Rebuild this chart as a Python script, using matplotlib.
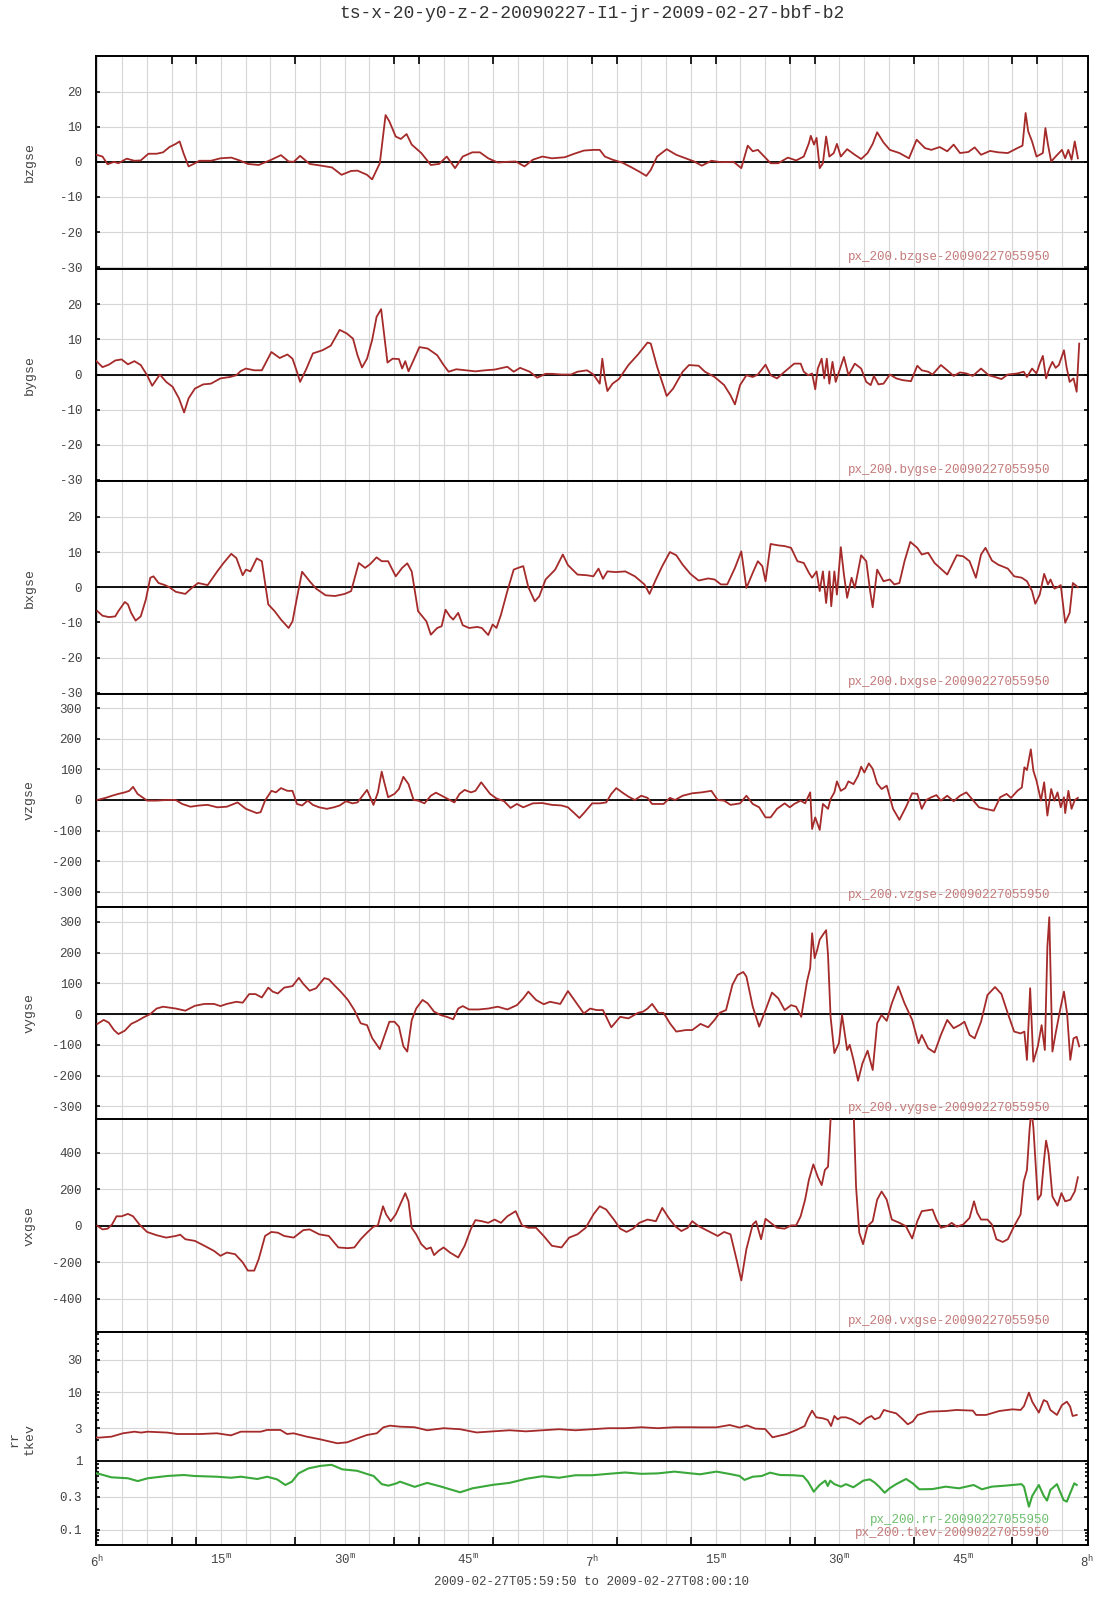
import numpy as np
import matplotlib
matplotlib.use("Agg")
import matplotlib.pyplot as plt
from matplotlib.ticker import FixedLocator, NullFormatter, LogLocator

plt.rcParams['font.family'] = ['Liberation Mono', 'DejaVu Sans Mono']
plt.rcParams['mathtext.fontset'] = 'custom'
plt.rcParams['mathtext.rm'] = 'Liberation Mono'

# time axis: minutes after 2009-02-27 06:00:00
t_start, t_end = -10 / 60.0, 120 + 10 / 60.0

bz_t = [-0.1, 0.62, 1.24, 2.01, 2.55, 3.56, 4.49, 5.26, 6.19, 7.19, 7.97, 8.74, 9.51, 9.98, 10.44,
        11.06, 11.68, 12.37, 13.77, 14.93, 16.24, 17.25, 18.25, 19.57, 21.11, 22.27, 23.20, 23.82,
        24.59, 25.75, 26.91, 28.46, 29.62, 30.78, 31.55, 32.71, 33.33, 34.26, 34.65, 34.96, 35.42,
        36.19, 36.81, 37.51, 38.13, 39.29, 40.45, 41.45, 42.38, 43.39, 44.32, 45.48, 46.40, 47.41,
        48.57, 49.73, 50.74, 51.82, 52.82, 53.98, 55.14, 56.69, 57.85, 59.01, 60.17, 60.94, 61.56,
        62.49, 63.65, 64.81, 65.74, 66.59, 67.13, 67.90, 69.06, 70.22, 71.38, 72.39, 73.32, 74.48,
        75.64, 77.18, 78.11, 78.89, 79.50, 80.12, 80.90, 81.67, 82.60, 83.76, 84.76, 85.69, 86.31,
        86.54, 86.93, 87.24, 87.62, 88.01, 88.40, 88.79, 89.33, 89.71, 90.18, 90.95, 91.88, 92.65,
        93.43, 94.05, 94.59, 95.36, 96.13, 97.29, 98.45, 99.38, 100.39, 101.16, 102.17, 103.09,
        103.87, 104.64, 105.65, 106.42, 107.19, 108.28, 109.28, 110.44, 111.60, 112.22, 112.60,
        112.91, 113.38, 113.92, 114.69, 115.00, 115.31, 115.70, 116.24, 117.01, 117.40, 117.78,
        118.17, 118.56, 118.94]
bz = [2.0, 1.5, -0.7, 0.0, -0.4, 0.9, 0.3, 0.4, 2.3, 2.3, 2.7, 4.2, 5.1, 5.8, 2.5,
      -1.3, -0.6, 0.3, 0.3, 1.0, 1.2, 0.4, -0.6, -0.9, 0.6, 1.9, 0.1, 0.0,
      1.7, -0.6, -1.0, -1.6, -3.7, -2.6, -2.5, -3.7, -5.0, -0.4, 7.2, 13.3, 11.5,
      7.2, 6.5, 7.9, 4.9, 2.5, -0.9, -0.6, 1.5, -1.8, 1.5, 2.7, 2.7, 1.0,
      -0.2, 0.0, 0.1, -1.3, 0.6, 1.5, 1.0, 1.3, 2.3, 3.2, 3.4, 3.4, 1.5,
      0.6, -0.2, -1.6, -2.8, -4.0, -2.3, 1.5, 3.6, 2.0, 1.0, 0.1, -1.1, 0.3,
      -0.1, 0.0, -1.8, 4.6, 3.0, 3.4, 1.5, -0.4, -0.4, 1.2, 0.4, 1.5, 5.3,
      7.4, 4.9, 6.8, -1.8, -0.4, 7.2, 1.5, 2.5, 5.1, 1.5, 3.6, 2.0, 0.8,
      2.5, 5.1, 8.4, 5.5, 3.4, 2.5, 1.0, 6.3, 3.9, 3.4, 4.2, 3.0,
      4.9, 2.5, 2.8, 4.1, 2.0, 3.1, 2.7, 2.5, 3.9, 4.6, 13.9,
      8.7, 5.8, 1.5, 2.5, 9.6, 4.9, 0.1, 1.5, 3.4, 1.0, 3.4,
      0.6, 5.8, 1.0]

by_t = [-0.15, 0.62, 1.39, 2.17, 2.94, 3.71, 4.49, 5.26, 6.03, 6.65, 7.58, 8.35, 9.13, 9.90, 10.52,
        11.06, 11.83, 12.84, 13.77, 14.93, 16.09, 16.86, 17.40, 18.02, 19.03, 19.95, 21.11, 22.12,
        23.05, 23.67, 24.21, 24.59, 25.37, 26.14, 27.30, 28.31, 29.39, 30.24, 31.01, 31.55, 32.10,
        32.71, 33.33, 33.87, 34.42, 34.80, 35.19, 35.81, 36.58, 36.97, 37.35, 37.74, 38.36, 39.06,
        40.06, 41.22, 42.00, 42.61, 43.54, 44.70, 45.86, 47.02, 48.18, 49.73, 50.50, 51.28, 52.44,
        53.36, 54.37, 55.14, 56.30, 57.46, 58.24, 59.40, 60.17, 60.94, 61.25, 61.56, 61.87, 62.49,
        63.26, 64.42, 65.58, 66.74, 67.13, 67.90, 69.06, 69.84, 71.00, 71.77, 72.93, 73.70, 74.87,
        76.03, 76.80, 77.34, 77.96, 78.73, 79.50, 80.12, 81.05, 81.67, 82.44, 83.37, 84.53, 85.31,
        85.69, 86.23, 86.70, 87.08, 87.39, 87.86, 88.17, 88.48, 88.79, 89.17, 89.56, 90.10, 90.56,
        91.11, 91.88, 92.65, 93.27, 93.81, 94.20, 94.74, 95.36, 96.13, 96.91, 97.68, 98.69, 99.46,
        100.00, 100.77, 101.31, 102.32, 103.09, 103.87, 104.64, 105.41, 106.19, 107.19, 108.12,
        108.89, 109.67, 110.44, 111.60, 112.37, 112.76, 113.38, 113.92, 114.31, 114.69, 115.08,
        115.47, 115.85, 116.24, 116.63, 117.25, 117.56, 117.94, 118.41, 118.79, 119.10]
by = [3.9, 2.1, 2.8, 4.0, 4.3, 2.9, 3.8, 2.7, -0.2, -3.2, 0.0, -2.1, -3.5, -6.8, -10.8,
      -6.8, -4.0, -2.8, -2.6, -1.1, -0.7, -0.2, 1.0, 1.7, 1.2, 1.2, 6.4, 4.7,
      5.7, 4.5, 0.8, -2.1, 1.7, 6.0, 6.9, 8.2, 12.7, 11.7, 10.2, 5.5, 2.0,
      4.5, 9.8, 16.4, 18.6, 11.2, 3.4, 4.5, 4.4, 1.7, 3.8, 0.9, 4.1, 7.8,
      7.4, 5.5, 2.7, 0.8, 1.5, 1.2, 0.9, 1.2, 1.4, 2.2, 0.8, 1.9, 0.8,
      -0.9, 0.2, 0.2, 0.0, 0.0, 0.8, 1.2, 0.0, -2.6, 4.5, -1.1, -4.7, -2.6,
      -1.3, 2.7, 5.7, 9.1, 8.8, 2.2, -6.1, -4.0, 0.8, 2.7, 2.5, 0.8, -0.7,
      -3.0, -5.9, -8.5, -3.0, -0.2, -0.7, 0.0, 2.8, -0.2, -1.1, 0.8, 3.1, 3.1,
      0.8, -0.2, 0.3, -4.2, 1.7, 4.5, -1.1, 4.5, -2.6, 3.6, -2.1, 1.7, 5.0,
      -0.2, 3.1, 1.7, -2.1, -3.0, -0.4, -2.8, -2.6, 0.0, -1.1, -1.6, -1.9, 2.5,
      1.2, 0.8, 0.0, 2.7, 1.2, -0.4, 0.6, 0.3, -0.4, 1.7, -0.2,
      -0.7, -1.3, 0.0, 0.3, 0.8, -0.7, 1.7, 0.3, 3.1, 5.3, -1.1,
      1.7, 3.6, 1.9, 2.7, 6.9, 2.2, -2.1, -1.1, -4.9, 8.8]

bx_t = [0.0, 0.62, 1.39, 2.17, 2.55, 3.33, 3.71, 4.10, 4.64, 5.26, 5.88, 6.42, 6.81, 7.42, 8.20,
        8.74, 9.51, 10.67, 11.45, 12.22, 13.38, 14.54, 15.31, 16.24, 16.86, 17.63, 18.02, 18.56,
        19.33, 19.95, 20.73, 21.50, 22.27, 23.20, 23.67, 24.21, 24.83, 25.75, 26.53, 27.69, 28.85,
        30.01, 30.78, 31.71, 32.48, 33.10, 33.87, 34.49, 35.27, 36.19, 36.97, 37.59, 38.13, 38.90,
        39.91, 40.45, 41.22, 41.76, 42.23, 42.77, 43.16, 43.77, 44.32, 45.09, 46.09, 46.64, 47.41,
        47.95, 48.41, 48.96, 49.73, 50.50, 51.04, 51.66, 52.28, 53.06, 53.60, 54.37, 55.53, 56.46,
        57.08, 58.24, 59.40, 60.17, 60.79, 61.33, 61.87, 62.88, 64.04, 65.20, 66.36, 66.98, 67.75,
        68.52, 69.45, 70.22, 71.00, 71.93, 72.93, 74.09, 74.87, 75.64, 76.41, 77.34, 78.11, 78.73,
        79.50, 80.12, 80.66, 81.05, 81.67, 82.60, 83.37, 84.15, 84.92, 85.69, 86.31, 86.70, 87.24,
        87.62, 88.01, 88.40, 88.79, 89.02, 89.40, 89.71, 90.18, 90.56, 90.95, 91.49, 91.88, 92.65,
        93.27, 93.74, 94.05, 94.59, 95.36, 96.13, 96.67, 97.29, 97.91, 98.61, 99.46, 100.00,
        100.77, 101.55, 103.09, 104.25, 105.03, 105.80, 106.57, 107.19, 107.73, 108.51, 109.28,
        110.44, 111.21, 112.14, 112.76, 113.38, 113.77, 114.31, 114.85, 115.31, 115.62, 116.09,
        116.47, 116.86, 117.40, 117.94, 118.33, 118.94]
bx = [-6.8, -8.1, -8.5, -8.3, -6.8, -4.2, -4.9, -7.3, -9.5, -8.3, -3.5, 2.7, 3.1, 1.2, 0.6,
      0.0, -1.3, -1.9, -0.2, 1.2, 0.6, 4.5, 6.9, 9.5, 8.3, 3.4, 5.0, 4.5,
      8.2, 7.4, -4.9, -6.8, -9.2, -11.6, -9.7, -3.0, 4.4, 1.7, -0.4, -2.3, -2.5,
      -1.9, -1.1, 6.9, 5.5, 6.6, 8.5, 7.4, 7.4, 3.1, 5.5, 6.8, 4.5, -6.8,
      -9.7, -13.5, -11.6, -11.1, -6.4, -8.3, -9.2, -7.3, -10.8, -11.6, -11.3, -11.6, -13.6,
      -10.6, -11.6, -7.8, -1.1, 5.0, 5.5, 6.0, 0.0, -4.0, -2.6, 2.2, 5.0, 9.3,
      6.3, 3.6, 3.4, 3.1, 5.3, 2.4, 4.5, 4.3, 4.5, 3.1, 0.8, -1.9, 2.2,
      6.0, 10.0, 9.1, 6.4, 3.8, 1.9, 2.5, 2.2, 0.8, 0.8, 5.5, 10.2, -0.2,
      4.1, 7.4, 6.0, 1.7, 12.3, 11.9, 11.7, 11.2, 7.4, 6.9, 4.1, 2.7, 4.5,
      -1.1, 4.5, -4.5, 4.5, -5.4, 4.5, -2.1, 11.4, 3.6, -3.0, 2.7, -0.2, 9.1,
      7.4, -1.1, -5.7, 5.0, 1.7, 2.2, 0.8, 1.2, 7.4, 12.9, 11.2, 9.3,
      9.8, 6.9, 3.6, 9.1, 8.8, 7.4, 2.7, 9.3, 11.2, 7.6, 6.4,
      5.3, 3.1, 2.7, 1.7, -1.1, -4.7, -2.1, 3.8, 0.8, 2.2, -0.4,
      0.0, 0.6, -10.1, -7.3, 1.2, 0.0]

vz_t = [0.0, 1.01, 1.78, 2.55, 3.33, 3.87, 4.33, 4.87, 6.03, 7.19, 8.35, 9.51, 10.29, 11.29, 12.37,
        13.38, 14.54, 15.70, 17.01, 18.02, 19.33, 19.80, 20.34, 21.11, 21.66, 22.27, 23.05, 23.67,
        24.21, 24.83, 25.52, 26.14, 26.91, 27.84, 28.69, 29.39, 30.16, 30.94, 31.55, 32.17, 32.71,
        33.49, 34.03, 34.49, 34.80, 35.27, 36.04, 36.58, 37.12, 37.74, 38.36, 38.90, 39.68, 40.45,
        41.07, 41.76, 42.54, 43.31, 43.93, 44.55, 45.32, 45.86, 46.56, 47.18, 47.64, 48.41, 49.34,
        50.12, 50.89, 51.66, 52.82, 53.98, 55.14, 56.30, 57.08, 57.85, 58.47, 59.01, 60.02, 60.94,
        61.72, 62.34, 62.95, 63.65, 64.42, 65.20, 65.97, 66.74, 67.29, 67.90, 68.68, 69.45, 70.07,
        71.00, 72.16, 73.32, 74.48, 75.25, 76.03, 76.80, 77.96, 78.73, 79.50, 80.28, 81.05, 81.67,
        82.44, 83.37, 83.99, 84.53, 85.31, 85.85, 86.47, 86.70, 87.08, 87.62, 88.01, 88.63, 88.94,
        89.40, 89.71, 90.18, 90.72, 91.11, 91.72, 92.27, 92.65, 93.04, 93.58, 94.05, 94.59, 95.13,
        95.75, 96.52, 97.29, 98.07, 98.84, 99.46, 100.00, 100.54, 101.16, 101.78, 102.32, 103.09,
        103.87, 104.64, 105.41, 106.19, 106.96, 107.73, 108.74, 109.51, 110.29, 110.83, 111.60,
        112.14, 112.45, 112.76, 113.23, 113.54, 113.92, 114.46, 114.85, 115.24, 115.70, 116.09,
        116.47, 116.86, 117.25, 117.40, 117.79, 118.17, 118.56, 118.94]
vz = [0, 7, 14, 20, 25, 30, 43, 20, -2, -2, 0, 0, -13, -22, -18,
      -16, -24, -22, -8, -29, -43, -40, -2, 30, 25, 39, 30, 30,
      -13, -18, -2, -16, -24, -29, -24, -18, -4, -11, -8, 14, 33,
      -16, 25, 93, 58, 9, 20, 36, 76, 52, 0, -2, -11, 14,
      24, 14, 3, -8, 20, 33, 25, 30, 58, 36, 20, 5, -4,
      -26, -13, -24, -11, -10, -16, -18, -24, -43, -59, -43, -11, -11,
      -8, 20, 39, 25, 11, 0, 14, 7, -13, -13, -13, 7, 0,
      14, 22, 25, 30, 0, -2, -16, -11, 14, -13, -24, -57, -57,
      -29, -11, -24, -13, -2, -11, 25, -95, -57, -98, -13, -29, 3,
      25, 61, 30, 39, 61, 52, 79, 109, 90, 120, 102, 54, 36,
      47, -29, -65, -24, 22, 20, -29, 0, 9, 16, -2, 14,
      -4, 14, 25, 0, -24, -29, -35, 9, 20, 7, 30,
      41, 107, 98, 166, 96, 63, -2, 58, -51, 36, -2,
      25, -24, 9, -43, 30, -29, 0, 7]

vy_t = [0.0, 0.77, 1.39, 2.01, 2.55, 3.33, 4.10, 4.87, 5.65, 6.42, 7.19, 7.97, 8.74, 9.51, 10.67,
        11.83, 12.99, 14.15, 14.93, 15.70, 16.86, 17.63, 18.41, 19.18, 19.95, 20.73, 21.27, 21.89,
        22.66, 23.67, 24.44, 24.98, 25.75, 26.53, 27.53, 28.07, 28.85, 29.62, 30.39, 31.17, 31.94,
        32.71, 33.33, 34.26, 34.88, 35.42, 36.04, 36.58, 37.12, 37.59, 38.13, 38.67, 39.44, 40.06,
        40.84, 41.61, 42.38, 43.16, 43.77, 44.32, 45.09, 46.25, 47.41, 48.57, 49.73, 50.89, 51.66,
        52.28, 53.21, 54.14, 54.91, 56.15, 57.08, 57.85, 59.01, 59.78, 60.56, 61.33, 62.34, 63.42,
        64.42, 65.58, 66.20, 66.74, 67.29, 68.06, 68.68, 69.45, 70.22, 71.38, 72.16, 73.16, 74.09,
        74.87, 75.48, 76.26, 77.03, 77.65, 78.35, 78.73, 79.50, 80.28, 81.05, 81.83, 82.60, 83.37,
        84.15, 84.76, 85.38, 86.08, 86.47, 86.70, 87.01, 87.32, 87.62, 88.01, 88.40, 88.63, 88.94,
        89.40, 89.95, 90.33, 90.95, 91.26, 91.72, 92.27, 92.81, 93.43, 94.05, 94.59, 95.13, 95.75,
        96.37, 97.14, 97.91, 98.84, 99.61, 100.00, 100.77, 101.55, 102.32, 103.09, 103.87, 104.64,
        105.18, 105.80, 106.42, 107.19, 107.97, 108.89, 109.67, 110.44, 111.21, 111.99, 112.45,
        112.76, 113.15, 113.54, 114.08, 114.54, 114.93, 115.24, 115.47, 115.85, 116.24, 116.78,
        117.25, 117.63, 118.02, 118.41, 118.79, 119.10]
vy = [-32, -19, -28, -52, -65, -54, -32, -22, -10, 0, 18, 24, 21, 18, 11,
      27, 33, 33, 26, 33, 40, 37, 65, 65, 54, 86, 73, 67,
      86, 91, 118, 98, 76, 84, 117, 113, 91, 70, 46, 13, -30,
      -36, -78, -114, -67, -25, -25, -41, -105, -122, -20, 18, 46, 35,
      8, -3, -9, -17, 18, 26, 15, 15, 18, 24, 15, 29, 51,
      73, 46, 32, 40, 33, 75, 46, 2, 18, 13, 13, -43, -9,
      -14, 4, 8, 18, 33, 4, 4, -30, -57, -52, -52, -32, -43,
      -19, 4, 13, 95, 127, 137, 122, 24, -41, 13, 70, 51, 13,
      29, 24, -9, 106, 150, 263, 182, 209, 242, 258, 273, 193, -9,
      -127, -95, -3, -117, -100, -149, -217, -160, -119, -182, -30, -3, -22,
      35, 90, 35, -19, -95, -68, -111, -125, -68, -19, -46, -35,
      -25, -68, -79, -25, 62, 88, 65, 2, -57, -63, -57,
      -149, 84, -155, -105, -36, -117, 220, 315, -122, -63, 13,
      73, 2, -149, -79, -74, -105]

vx_t = [0.0, 0.62, 1.24, 1.78, 2.32, 2.94, 3.71, 4.33, 5.10, 6.03, 7.19, 8.35, 9.51, 10.05, 10.67,
        11.83, 12.99, 14.15, 14.93, 15.70, 16.71, 17.63, 18.25, 19.03, 19.57, 20.34, 21.11, 21.89,
        22.66, 23.82, 24.98, 25.75, 26.91, 28.07, 29.23, 30.39, 31.17, 31.94, 32.71, 33.49, 34.03,
        34.65, 35.03, 35.58, 36.19, 36.81, 37.35, 37.74, 38.13, 38.67, 39.29, 39.91, 40.45, 40.84,
        41.38, 42.00, 42.77, 43.77, 44.55, 45.32, 45.86, 46.64, 47.41, 48.18, 48.96, 49.73, 50.74,
        51.51, 52.28, 53.21, 54.14, 55.14, 56.30, 57.23, 58.24, 59.24, 60.17, 60.94, 61.72, 62.65,
        63.42, 64.19, 64.97, 65.74, 66.74, 67.75, 68.52, 69.30, 70.07, 70.84, 71.62, 72.16, 72.93,
        73.70, 74.48, 75.25, 76.03, 76.80, 77.57, 78.11, 78.73, 79.50, 79.89, 80.51, 81.05, 81.67,
        82.44, 83.37, 84.15, 84.76, 85.31, 85.85, 86.31, 86.85, 87.39, 87.86, 88.25, 88.63, 89.02,
        90.33, 91.72, 92.03, 92.42, 92.88, 93.43, 94.05, 94.59, 95.13, 95.75, 96.37, 97.29, 98.07,
        98.84, 99.46, 100.00, 100.77, 101.31, 101.78, 102.32, 103.09, 103.63, 104.25, 105.03,
        105.80, 106.34, 106.73, 107.19, 107.97, 108.51, 109.05, 109.82, 110.44, 111.21, 111.99,
        112.37, 112.76, 113.07, 113.30, 113.54, 114.08, 114.46, 114.85, 115.08, 115.39, 115.85,
        116.47, 116.94, 117.40, 118.02, 118.56, 118.94]
vx = [0, -20, -16, 7, 52, 52, 65, 52, 7, -34, -52, -65, -56, -49, -74,
      -83, -110, -138, -165, -147, -156, -201, -246, -246, -183, -56, -34, -38,
      -56, -65, -24, -20, -47, -56, -119, -123, -119, -74, -38, -5, 2,
      107, 62, 25, 62, 125, 179, 134, -11, -47, -101, -128, -119, -161,
      -138, -119, -147, -174, -110, -16, 31, 25, 16, 34, 16, 52, 80,
      2, -11, -11, -56, -110, -119, -65, -47, -11, 62, 107, 89, 34,
      -16, -34, -16, 16, 34, 25, 98, 43, -2, -29, -11, 25, -2,
      -20, -38, -56, -34, -47, -192, -300, -128, 7, 25, -74, 38, 16,
      -11, -16, 2, 2, 52, 143, 252, 337, 268, 223, 306, 324, 650,
      700, 650, 215, -38, -101, -2, 25, 143, 188, 143, 34, 16, -2,
      -70, 25, 80, 85, 89, 34, -11, -2, 16, -5, 7,
      43, 134, 71, 34, 34, 7, -74, -89, -74, -2, 62,
      243, 306, 522, 640, 540, 143, 170, 367, 467, 396, 161,
      110, 179, 134, 143, 188, 266]

tkev_t = [-0.1, 0.26, 1.7, 3.1, 4.5, 5.3, 6.1, 8.5, 9.7, 12.5, 14.5, 16.2, 17.4, 19.8, 20.6, 22.2,
          23.0, 23.8, 25.4, 27.0, 29.1, 30.3, 31.9, 32.7, 33.9, 34.7, 35.5, 36.7, 38.5, 40.0, 42.0,
          44.0, 46.0, 48.0, 50.0, 52.0, 54.0, 56.0, 58.0, 60.0, 62.0, 64.0, 66.0, 68.0, 70.0, 72.0,
          73.1, 75.1, 76.7, 77.9, 78.8, 79.8, 81.0, 81.9, 83.6, 84.8, 85.8, 86.2, 86.7, 87.2, 88.0,
          88.6, 89.0, 89.4, 89.8, 90.2, 90.8, 91.5, 92.5, 93.3, 93.9, 94.3, 94.9, 95.4, 96.1, 96.9,
          97.7, 98.3, 98.9, 99.5, 100.9, 102.9, 104.2, 106.2, 106.6, 107.8, 109.4, 111.0, 112.0,
          112.4, 113.0, 113.4, 114.2, 114.8, 115.2, 115.6, 116.4, 117.0, 117.6, 118.0, 118.3, 118.8]
tkev = [2.2, 2.19, 2.26, 2.53, 2.67, 2.59, 2.67, 2.59, 2.47, 2.47, 2.53, 2.36, 2.67, 2.67, 2.83, 2.83,
        2.47, 2.53, 2.26, 2.07, 1.81, 1.87, 2.21, 2.39, 2.53, 3.09, 3.27, 3.16, 3.1, 2.8, 3.0,
        2.9, 2.6, 2.7, 2.8, 2.7, 2.8, 2.9, 2.8, 2.9, 3.0, 3.0, 3.1, 3.0, 3.1, 3.1,
        3.09, 3.09, 3.34, 3.06, 3.30, 2.96, 2.92, 2.21, 2.47, 2.83, 3.23, 4.18, 5.41, 4.32, 4.18,
        3.96, 3.23, 4.52, 4.04, 4.32, 4.32, 4.04, 3.42, 4.18, 4.52, 4.04, 4.32, 5.53, 5.23, 4.94,
        4.04, 3.42, 3.74, 4.68, 5.23, 5.34, 5.53, 5.41, 4.68, 4.68, 5.34, 5.65, 5.53,
        6.3, 9.9, 7.3, 5.06, 7.7, 7.3, 5.53, 4.68, 6.5, 7.3, 6.2, 4.52, 4.68]

rr_t = [-0.1, 0.26, 1.7, 3.7, 4.9, 6.1, 8.5, 10.5, 11.7, 14.5, 16.2, 17.4, 19.4, 20.6, 21.8, 22.8,
        23.6, 24.4, 25.6, 27.0, 28.4, 29.7, 31.5, 32.7, 33.5, 34.5, 35.3, 36.3, 36.7, 38.5, 40.0,
        41.5, 43.0, 44.0, 45.5, 48.0, 50.0, 52.0, 54.0, 56.0, 58.0, 60.0, 62.0, 64.0, 66.0, 68.0,
        70.0, 72.0, 73.1, 75.1, 76.7, 77.9, 78.5, 79.5, 80.6, 81.6, 82.8, 84.4, 85.6, 86.2, 86.9,
        87.6, 88.3, 88.6, 88.9, 89.4, 90.2, 90.8, 91.7, 92.9, 93.7, 94.3, 94.9, 95.5, 96.1, 96.9,
        98.1, 98.9, 99.7, 101.3, 102.9, 104.5, 106.3, 107.3, 108.5, 110.1, 112.1, 112.4, 113.0,
        113.4, 114.2, 114.8, 115.2, 115.6, 116.4, 117.2, 117.6, 118.0, 118.5, 118.8]
rr = [0.66, 0.647, 0.578, 0.56, 0.51, 0.56, 0.605, 0.625, 0.605, 0.59, 0.57, 0.59, 0.547, 0.59, 0.54,
      0.447, 0.5, 0.66, 0.78, 0.846, 0.88, 0.756, 0.72, 0.647, 0.605, 0.46, 0.437, 0.473, 0.5,
      0.42, 0.48, 0.43, 0.38, 0.35, 0.40, 0.45, 0.48, 0.55, 0.60, 0.57, 0.62, 0.62, 0.65, 0.68,
      0.65, 0.66, 0.70, 0.66, 0.64, 0.70, 0.647, 0.605, 0.53, 0.59, 0.605, 0.676, 0.625, 0.62,
      0.605, 0.50, 0.357, 0.447, 0.517, 0.432, 0.517, 0.46, 0.423, 0.46, 0.414, 0.517, 0.54,
      0.484, 0.414, 0.345, 0.40, 0.46, 0.547, 0.473, 0.387, 0.39, 0.423, 0.40, 0.447, 0.387,
      0.423, 0.437, 0.46, 0.423, 0.216, 0.31, 0.447, 0.31, 0.265, 0.378, 0.46, 0.27, 0.256,
      0.338, 0.473, 0.447]

# x-axis ticks drawn along the outer edges (minutes after 06:00)
edge_ticks = [9, 12, 24, 36, 39, 48, 60, 63, 72, 75, 84, 87, 99, 111, 114]
label_pos = [0, 15, 30, 45, 60, 75, 90, 105, 120]
label_txt = ['6$^{\\mathrm{h}}$', '15$^{\\mathrm{m}}$', '30$^{\\mathrm{m}}$', '45$^{\\mathrm{m}}$',
             '7$^{\\mathrm{h}}$', '15$^{\\mathrm{m}}$', '30$^{\\mathrm{m}}$', '45$^{\\mathrm{m}}$',
             '8$^{\\mathrm{h}}$']

red = '#a52a2a'
green = '#3aa83a'
txt = '#444444'
tag = '-20090227055950'

panels = [
    ('bzgse', bz_t, bz, (-30.4, 30.1), [20, 10, 0, -10, -20, -30]),
    ('bygse', by_t, by, (-30.4, 30.1), [20, 10, 0, -10, -20, -30]),
    ('bxgse', bx_t, bx, (-30.4, 30.1), [20, 10, 0, -10, -20, -30]),
    ('vzgse', vz_t, vz, (-350, 347), [300, 200, 100, 0, -100, -200, -300]),
    ('vygse', vy_t, vy, (-343, 349), [300, 200, 100, 0, -100, -200, -300]),
    ('vxgse', vx_t, vx, (-584, 583), [400, 200, 0, -200, -400]),
]

fig = plt.figure(figsize=(11.07, 16.0), dpi=100)
W, H = 1107.0, 1600.0
left, right, top = 96, 1088, 56
ph = 212.7


def style(ax, yt, ylabs):
    ax.set_xlim(t_start, t_end)
    for m in np.arange(0, 121, 3):
        ax.axvline(m, color='#d6d6d6', lw=0.8, zorder=0)
    ax.set_yticks(yt)
    ax.set_yticklabels(ylabs)
    for y in yt:
        ax.axhline(y, color='#d6d6d6', lw=0.8, zorder=0)
    ax.tick_params(axis='y', which='both', direction='in', length=3, width=1.2,
                   left=True, right=True, labelsize=9, labelcolor=txt, pad=10)
    ax.set_xticks([])
    for s in ax.spines.values():
        s.set_linewidth(1.4)
        s.set_color('black')


axes = []
for i in range(7):
    y0 = 1 - (top + (i + 1) * ph) / H
    ax = fig.add_axes([left / W, y0, (right - left) / W, ph / H])
    axes.append(ax)

for ax, (name, t, v, yl, yt) in zip(axes[:6], panels):
    style(ax, yt, [str(y) for y in yt])
    ax.set_ylim(*yl)
    ax.axhline(0, color='black', lw=1.3, zorder=2)
    ax.plot(t, v, color=red, lw=1.3, zorder=3)
    ax.text(0.9617, 0.055, 'px_200.' + name + tag, transform=ax.transAxes,
            ha='right', va='center', fontsize=9, color='#c47a7a')
    fig.text(30 / W, 1 - (top + (axes.index(ax) + 0.5) * ph) / H, name, rotation=90,
             ha='center', va='center', fontsize=9.5, color=txt)

# last panel: rr and tkev on a log axis
ax = axes[6]
ax.set_yscale('log')
lyt = [30, 10, 3, 1, 0.3, 0.1]
style(ax, [y for y in lyt if y != 1] + [1], ['30', '10', '3', '0.3', '0.1', '1'])
ax.set_ylim(0.06, 75)
ax.yaxis.set_minor_locator(LogLocator(base=10, subs=np.arange(2, 10)))
ax.yaxis.set_minor_formatter(NullFormatter())
ax.tick_params(axis='y', which='minor', direction='in', length=2.5, width=1.2, left=True, right=True)
ax.axhline(1, color='black', lw=1.3, zorder=2)
ax.plot(tkev_t, tkev, color=red, lw=1.3, zorder=3)
ax.plot(rr_t, rr, color=green, lw=1.5, zorder=3)
ax.text(0.9617, 0.118, 'px_200.rr' + tag, transform=ax.transAxes,
        ha='right', va='center', fontsize=9, color='#6cbf6c')
ax.text(0.9617, 0.056, 'px_200.tkev' + tag, transform=ax.transAxes,
        ha='right', va='center', fontsize=9, color='#c47a7a')
fig.text(22 / W, 1 - (top + 6.5 * ph) / H, 'rr\ntkev', rotation=90, ha='center', va='center',
         multialignment='center', fontsize=9.5, color=txt, linespacing=1.3)

# x ticks: labels along the bottom, short marks along the outer edges
ax.set_xticks(label_pos)
ax.set_xticklabels(label_txt)
ax.xaxis.set_minor_locator(FixedLocator(edge_ticks))
ax.tick_params(axis='x', which='major', length=0, labelsize=9, labelcolor=txt, pad=6)
ax.tick_params(axis='x', which='minor', direction='in', length=6, width=1.2, bottom=True)
axes[0].xaxis.set_minor_locator(FixedLocator(edge_ticks))
axes[0].tick_params(axis='x', which='minor', direction='in', length=6, width=1.2,
                    top=True, bottom=False)

fig.text(592 / W, 1 - 14 / H, 'ts-x-20-y0-z-2-20090227-I1-jr-2009-02-27-bbf-b2',
         ha='center', va='center', fontsize=13, color='#333333')
fig.text(592 / W, 1 - 1582 / H, '2009-02-27T05:59:50 to 2009-02-27T08:00:10',
         ha='center', va='center', fontsize=9, color=txt)

fig.savefig('out.png', dpi=100)
